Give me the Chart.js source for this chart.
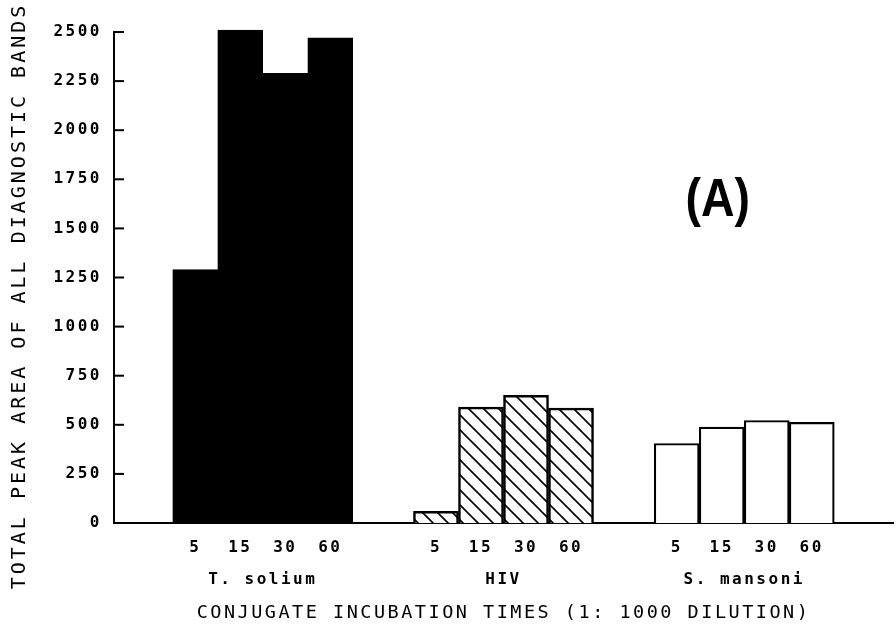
<!DOCTYPE html>
<html>
<head>
<meta charset="utf-8">
<script src="https://cdn.jsdelivr.net/npm/chart.js@4"></script>
<style>
  html, body { margin: 0; padding: 0; background: #fff; }
  #wrap { width: 896px; height: 631px; }
</style>
</head>
<body>
<div id="wrap"><canvas id="chart"></canvas></div>
<script>
// data
const groups = ["T. solium", "HIV", "S. mansoni"];
const times = ["5", "15", "30", "60"];
const tSolium = [1290, 2510, 2290, 2470];
const hiv = [60, 590, 650, 585];
const sMansoni = [405, 488, 522, 512];
const yTicks = [0, 250, 500, 750, 1000, 1250, 1500, 1750, 2000, 2250, 2500];

// group centres sit at 1, 2, 3 on the x scale; one bar is this wide in those units
const barUnit = 0.187;
const mono = "'DejaVu Sans Mono', monospace";

function points(values, g) {
  return values.map((v, i) => ({ x: g + 1 + (i - 1.5) * barUnit, y: v }));
}

// hatch for HIV
function hatch() {
  const c = document.createElement("canvas");
  c.width = 15;
  c.height = 15;
  const p = c.getContext("2d");
  p.fillStyle = "#fff";
  p.fillRect(0, 0, 15, 15);
  p.strokeStyle = "#000";
  p.lineWidth = 1.6;
  p.beginPath();
  p.moveTo(-2, -2); p.lineTo(17, 17);
  p.moveTo(-2, 13); p.lineTo(2, 17);
  p.moveTo(13, -2); p.lineTo(17, 2);
  p.stroke();
  return p.createPattern(c, "repeat");
}

const extras = {
  id: "extras",
  beforeLayout(chart) { chart.ctx.letterSpacing = "2.5px"; },
  beforeDraw(chart) { chart.ctx.letterSpacing = "2.5px"; },
  afterDraw(chart) {
    const ctx = chart.ctx;
    const y = chart.scales.y;
    const x = chart.scales.x;
    const left = chart.chartArea.left;
    ctx.save();
    // inward tick marks on the y axis
    ctx.strokeStyle = "#000";
    ctx.lineWidth = 2;
    y.ticks.forEach(t => {
      const py = y.getPixelForValue(t.value);
      ctx.beginPath();
      ctx.moveTo(left, py);
      ctx.lineTo(left + 10, py);
      ctx.stroke();
    });
    // y axis title
    ctx.fillStyle = "#000";
    ctx.font = "20px " + mono;
    ctx.letterSpacing = "3px";
    ctx.textAlign = "center";
    ctx.textBaseline = "middle";
    ctx.translate(20, 296);
    ctx.rotate(-Math.PI / 2);
    ctx.fillText("TOTAL PEAK AREA OF ALL DIAGNOSTIC BANDS", 0, 0);
    ctx.restore();

    // panel label
    ctx.save();
    ctx.letterSpacing = "0px";
    ctx.fillStyle = "#000";
    ctx.font = "bold 54px 'Liberation Sans', Arial, sans-serif";
    ctx.textAlign = "center";
    ctx.textBaseline = "middle";
    ctx.translate(x.getPixelForValue(2.89), y.getPixelForValue(1640));
    ctx.scale(0.86, 1);
    ctx.fillText("(A)", 0, 0);
    ctx.restore();
  }
};

new Chart(document.getElementById("chart"), {
  type: "bar",
  data: {
    datasets: [
      {
        label: groups[0],
        data: points(tSolium, 0),
        backgroundColor: "#000",
        borderColor: "#000",
        borderWidth: 2,
      },
      {
        label: groups[1],
        data: points(hiv, 1),
        backgroundColor: hatch(),
        borderColor: "#000",
        borderWidth: 2.5,
      },
      {
        label: groups[2],
        data: points(sMansoni, 2),
        backgroundColor: "#fff",
        borderColor: "#000",
        borderWidth: 2.2,
      },
    ],
  },
  options: {
    responsive: true,
    maintainAspectRatio: false,
    animation: false,
    clip: false,
    grouped: false,
    categoryPercentage: 1,
    barPercentage: 1,
    layout: { padding: { top: 32, right: 3, bottom: 7, left: 0 } },
    plugins: {
      legend: { display: false },
      tooltip: { enabled: false },
    },
    scales: {
      x: {
        type: "linear",
        position: "bottom",
        offset: false,
        min: 0.382,
        max: 3.618,
        grid: { display: false, drawTicks: false },
        border: { display: true, color: "#000", width: 2 },
        afterBuildTicks(scale) {
          const ticks = [];
          for (let g = 0; g < groups.length; g++) {
            times.forEach((t, i) => ticks.push({ value: g + 1 + (i - 1.5) * barUnit }));
          }
          scale.ticks = ticks;
        },
        afterFit(scale) { scale.height = 40; },
        ticks: {
          autoSkip: false,
          maxRotation: 0,
          padding: 15,
          color: "#000",
          font: { family: mono, size: 16, weight: "bold" },
          callback: (v, i) => times[i % times.length],
        },
      },
      x2: {
        type: "linear",
        position: "bottom",
        offset: false,
        min: 0.382,
        max: 3.618,
        grid: { display: false, drawTicks: false },
        border: { display: false },
        afterBuildTicks(scale) {
          scale.ticks = groups.map((g, i) => ({ value: i + 1 }));
        },
        afterFit(scale) { scale.height = 61; },
        ticks: {
          autoSkip: false,
          maxRotation: 0,
          padding: 7,
          color: "#000",
          font: { family: mono, size: 16, weight: "bold" },
          callback: (v, i) => groups[i],
        },
        title: {
          display: true,
          text: "CONJUGATE INCUBATION TIMES (1: 1000 DILUTION)",
          color: "#000",
          font: { family: mono, size: 18.5 },
          padding: 0,
        },
      },
      y: {
        min: 0,
        max: 2500,
        grid: { display: false, drawTicks: false },
        border: { display: true, color: "#000", width: 2 },
        afterBuildTicks(scale) {
          scale.ticks = yTicks.map(v => ({ value: v }));
        },
        afterFit(scale) { scale.width = 114; },
        ticks: {
          padding: 12,
          color: "#000",
          font: { family: mono, size: 16, weight: "bold" },
          callback: v => String(v),
        },
      },
    },
  },
  plugins: [extras],
});
</script>
</body>
</html>
